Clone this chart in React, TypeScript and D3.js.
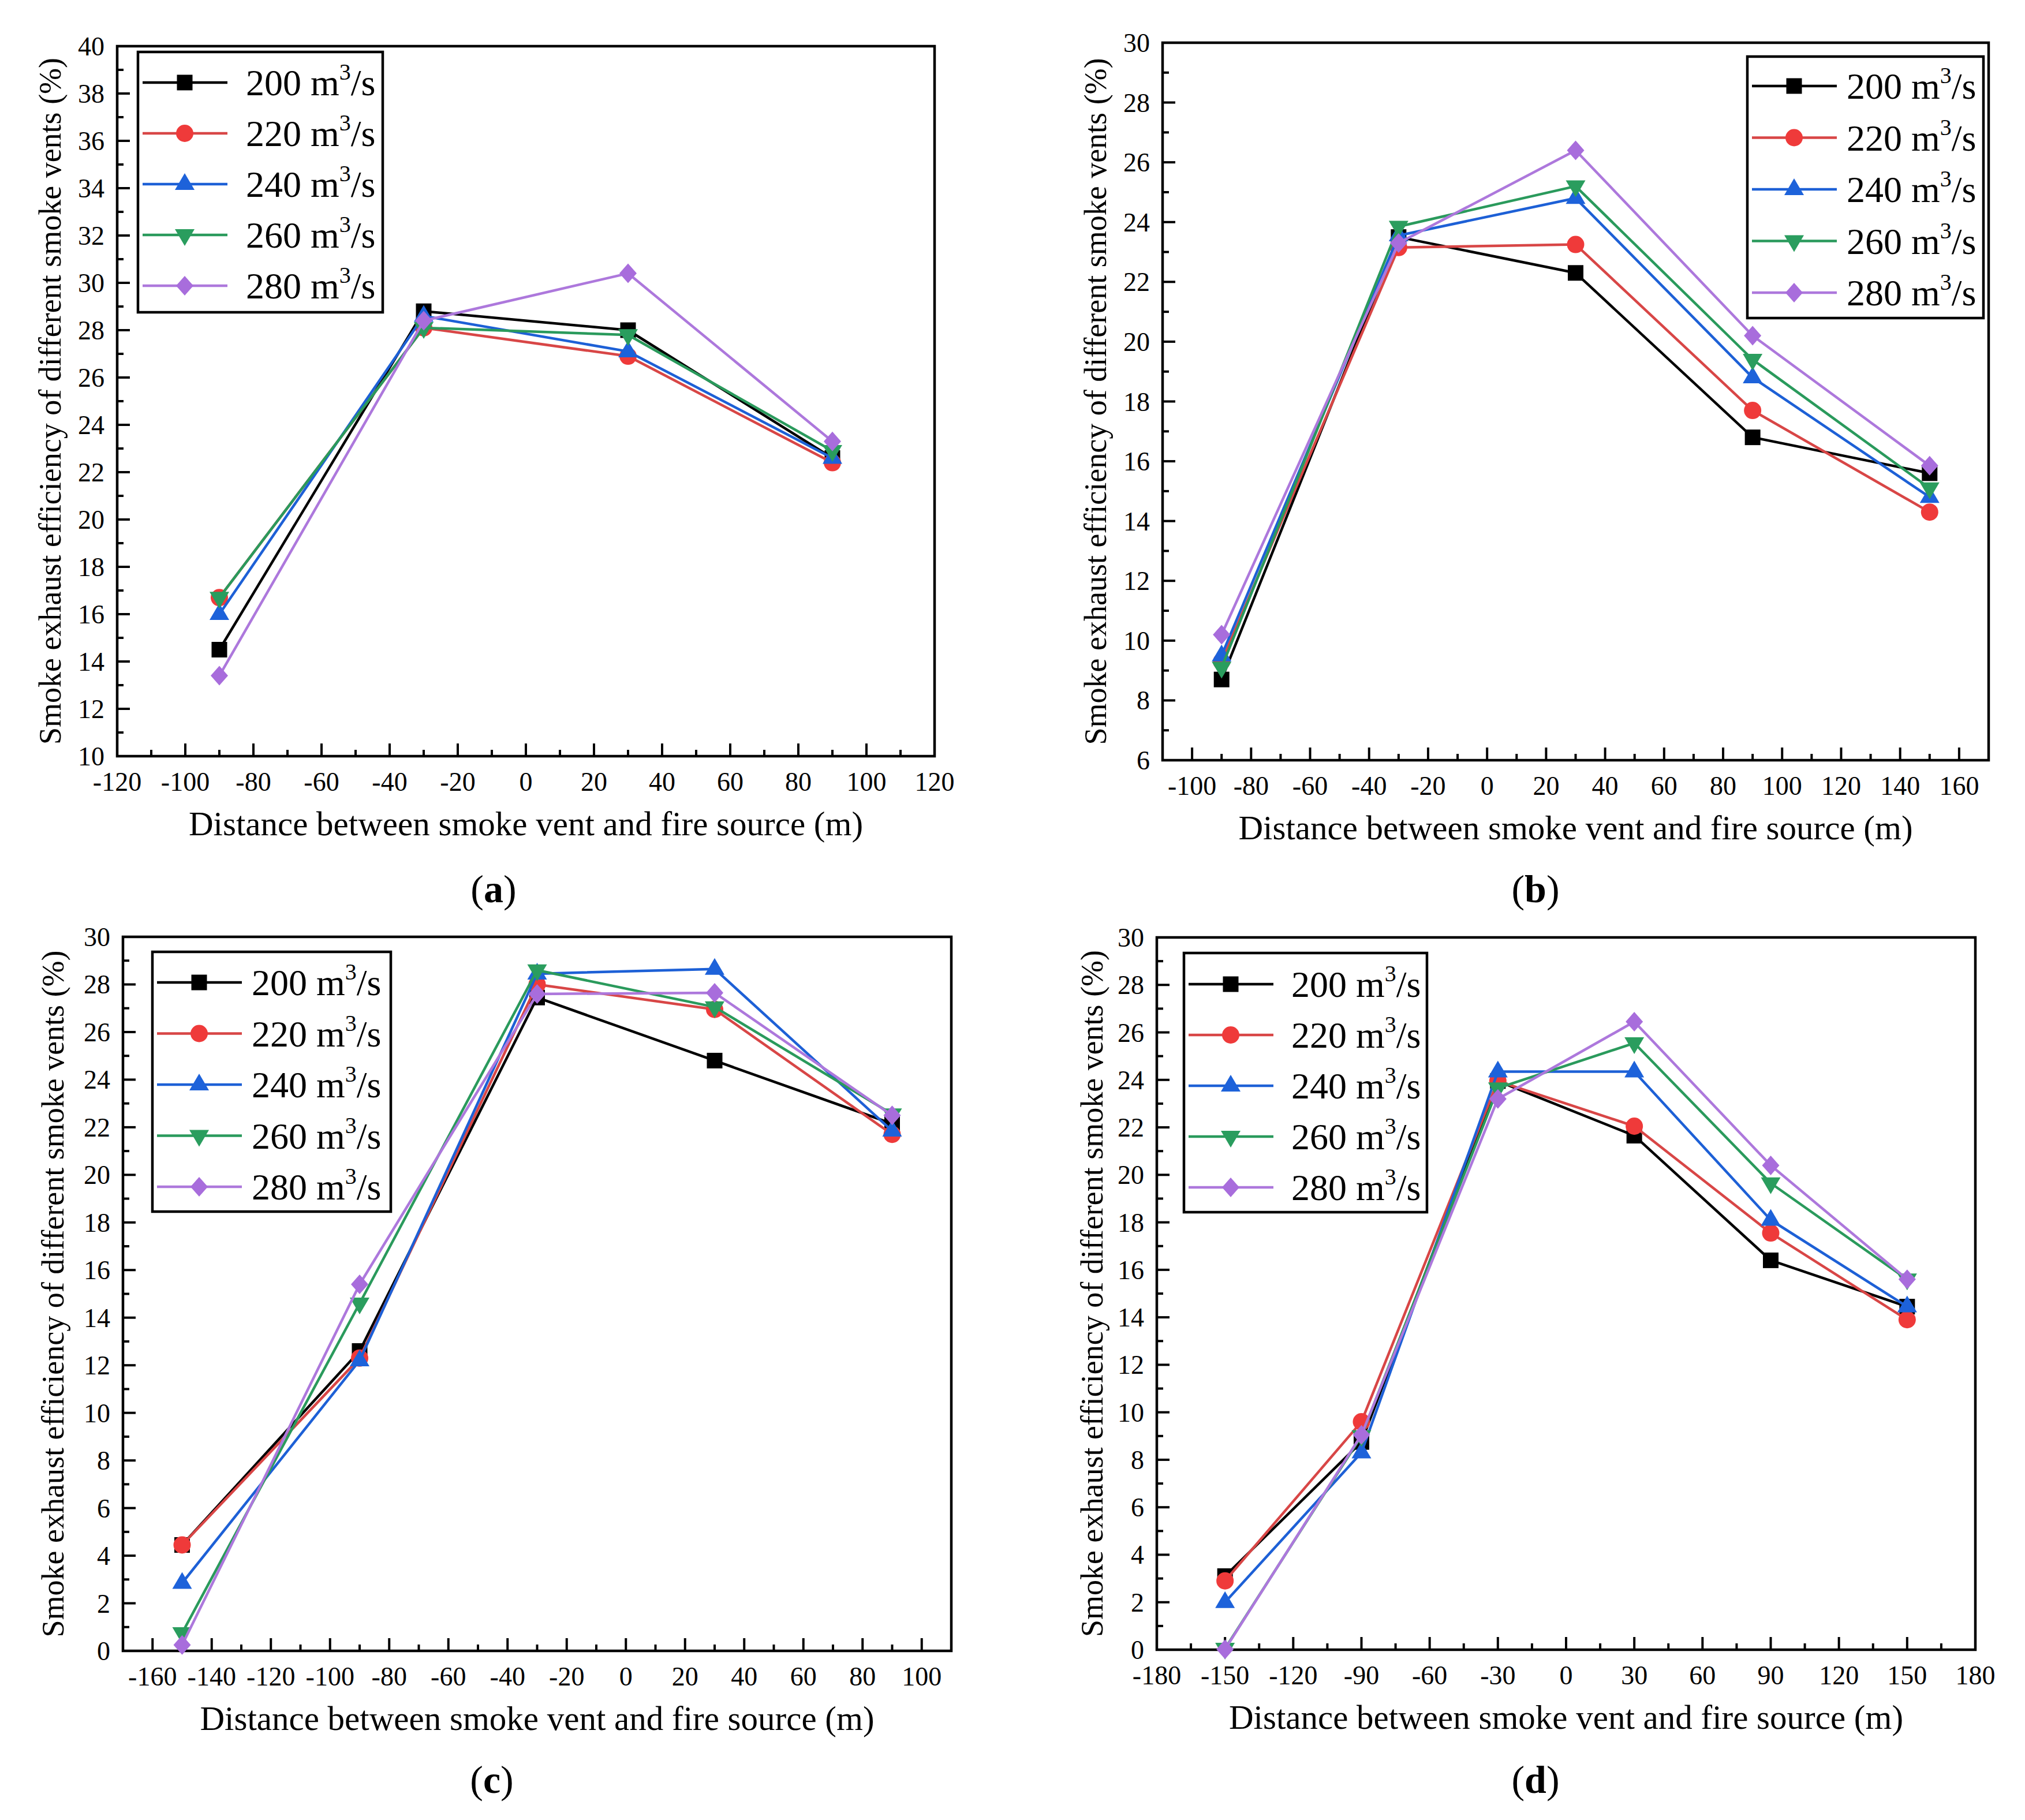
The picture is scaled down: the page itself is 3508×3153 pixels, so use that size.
import * as d3 from "d3";

// flow rates of the five simulated cases
const flowLabels = ["200", "220", "240", "260", "280"];
const lineColors = ["#000000", "#d84646", "#1d60d6", "#2a9a5c", "#ad78dc"];
const markerColors = ["#000000", "#ef3a3a", "#1d62da", "#2a9d5e", "#a86ddc"];
const markerShapes = ["square", "circle", "triangle", "triangleDown", "diamond"];

// (a)
const distA = [-90, -30, 30, 90];
const effA200 = [14.5, 28.8, 28.0, 22.6];
const effA220 = [16.7, 28.1, 26.9, 22.4];
const effA240 = [16.0, 28.6, 27.1, 22.6];
const effA260 = [16.7, 28.1, 27.8, 22.9];
const effA280 = [13.4, 28.4, 30.4, 23.3];

// (b)
const distB = [-90, -30, 30, 90, 150];
const effB200 = [8.7, 23.5, 22.3, 16.8, 15.6];
const effB220 = [9.3, 23.15, 23.25, 17.7, 14.3];
const effB240 = [9.5, 23.55, 24.8, 18.8, 14.8];
const effB260 = [9.1, 23.85, 25.2, 19.4, 15.1];
const effB280 = [10.2, 23.3, 26.4, 20.2, 15.85];

// (c)
const distC = [-150, -90, -30, 30, 90];
const effC200 = [4.45, 12.6, 27.45, 24.8, 22.15];
const effC220 = [4.45, 12.3, 28.0, 26.95, 21.7];
const effC240 = [2.85, 12.2, 28.45, 28.65, 21.85];
const effC260 = [0.75, 14.6, 28.6, 27.05, 22.55];
const effC280 = [0.25, 15.4, 27.6, 27.65, 22.5];

// (d)
const distD = [-150, -90, -30, 30, 90, 150];
const effD200 = [3.1, 8.75, 23.95, 21.65, 16.4, 14.45];
const effD220 = [2.9, 9.6, 23.95, 22.05, 17.55, 13.9];
const effD240 = [2.0, 8.3, 24.35, 24.35, 18.1, 14.45];
const effD260 = [0.05, 9.0, 23.65, 25.55, 19.65, 15.6];
const effD280 = [0.02, 9.05, 23.2, 26.45, 20.4, 15.6];

const xTitle = "Distance between smoke vent and fire source (m)";
const yTitle = "Smoke exhaust efficiency of different smoke vents (%)";

const FONT = "'Liberation Serif', 'DejaVu Serif', serif";
const txt = { fontFamily: FONT };

interface Box { l: number; t: number; r: number; b: number }
interface PanelSpec {
  tag: string;
  xs: number[];
  series: number[][];
  box: Box;
  xDomain: [number, number];
  xStep: number;
  yDomain: [number, number];
  yStep: number;
  legend: Box & { row0: number; gap: number; textDx: number };
  yTitleX: number;
  labelX: number;
  labelY: number;
}

const panels: PanelSpec[] = [
  {
    tag: "a",
    xs: distA,
    series: [effA200, effA220, effA240, effA260, effA280],
    box: { l: 203, t: 80, r: 1619, b: 1310 },
    xDomain: [-120, 120],
    xStep: 20,
    yDomain: [10, 40],
    yStep: 2,
    legend: { l: 239, t: 90, r: 663, b: 541, row0: 143, gap: 88, textDx: 187 },
    yTitleX: 87,
    labelX: 855,
    labelY: 1563,
  },
  {
    tag: "b",
    xs: distB,
    series: [effB200, effB220, effB240, effB260, effB280],
    box: { l: 2014, t: 74, r: 3445, b: 1317 },
    xDomain: [-110, 170],
    xStep: 20,
    yDomain: [6, 30],
    yStep: 2,
    legend: { l: 3027, t: 98, r: 3436, b: 551, row0: 149, gap: 89.5, textDx: 172 },
    yTitleX: 1898,
    labelX: 2660,
    labelY: 1563,
  },
  {
    tag: "c",
    xs: distC,
    series: [effC200, effC220, effC240, effC260, effC280],
    box: { l: 213, t: 1623, r: 1648, b: 2860 },
    xDomain: [-170, 110],
    xStep: 20,
    yDomain: [0, 30],
    yStep: 2,
    legend: { l: 264, t: 1649, r: 677, b: 2099, row0: 1702, gap: 88.5, textDx: 172 },
    yTitleX: 92,
    labelX: 852,
    labelY: 3106,
  },
  {
    tag: "d",
    xs: distD,
    series: [effD200, effD220, effD240, effD260, effD280],
    box: { l: 2004, t: 1624, r: 3422, b: 2858 },
    xDomain: [-180, 180],
    xStep: 30,
    yDomain: [0, 30],
    yStep: 2,
    legend: { l: 2051, t: 1651, r: 2472, b: 2100, row0: 1705, gap: 88, textDx: 186 },
    yTitleX: 1892,
    labelX: 2660,
    labelY: 3106,
  },
];

function Marker({ shape, x, y, color }: { shape: string; x: number; y: number; color: string }) {
  if (shape === "circle") return <circle cx={x} cy={y} r={15} fill={color} />;
  let d = "";
  if (shape === "square") d = `M${x - 13.5},${y - 13.5}h27v27h-27Z`;
  else if (shape === "triangle") d = `M${x},${y - 19}L${x + 17},${y + 10}L${x - 17},${y + 10}Z`;
  else if (shape === "triangleDown") d = `M${x},${y + 19}L${x + 17},${y - 10}L${x - 17},${y - 10}Z`;
  else d = `M${x},${y - 17}L${x + 15},${y}L${x},${y + 17}L${x - 15},${y}Z`;
  return <path d={d} fill={color} />;
}

function FlowText({ x, y, value }: { x: number; y: number; value: string }) {
  return (
    <text x={x} y={y} style={txt} fontSize={64} fill="#000">
      {value} m
      <tspan dy={-27} fontSize={40}>3</tspan>
      <tspan dy={27}>/s</tspan>
    </text>
  );
}

function Panel({ p }: { p: PanelSpec }) {
  const { box, legend } = p;
  const x = d3.scaleLinear().domain(p.xDomain).range([box.l, box.r]);
  const y = d3.scaleLinear().domain(p.yDomain).range([box.b, box.t]);

  const xStart = Math.ceil(p.xDomain[0] / p.xStep) * p.xStep;
  const xMajor = d3.range(xStart, p.xDomain[1] + 0.001, p.xStep);
  const xMinor = d3
    .range(xStart - p.xStep / 2, p.xDomain[1] + 0.001, p.xStep)
    .filter((v) => v > p.xDomain[0] && v < p.xDomain[1]);
  const yMajor = d3.range(p.yDomain[0], p.yDomain[1] + 0.001, p.yStep);
  const yMinor = d3.range(p.yDomain[0] + p.yStep / 2, p.yDomain[1], p.yStep);

  const line = d3
    .line<number>()
    .x((_, i) => x(p.xs[i]))
    .y((v) => y(v));

  const cx = (box.l + box.r) / 2;
  const cy = (box.t + box.b) / 2;

  return (
    <g>
      {/* ticks point into the plot */}
      {xMajor.map((v) => (
        <line key={"xM" + v} x1={x(v)} x2={x(v)} y1={box.b} y2={box.b - 22} stroke="#000" strokeWidth={4} />
      ))}
      {xMinor.map((v) => (
        <line key={"xm" + v} x1={x(v)} x2={x(v)} y1={box.b} y2={box.b - 11} stroke="#000" strokeWidth={4} />
      ))}
      {yMajor.map((v) => (
        <line key={"yM" + v} x1={box.l} x2={box.l + 22} y1={y(v)} y2={y(v)} stroke="#000" strokeWidth={4} />
      ))}
      {yMinor.map((v) => (
        <line key={"ym" + v} x1={box.l} x2={box.l + 11} y1={y(v)} y2={y(v)} stroke="#000" strokeWidth={4} />
      ))}

      {xMajor.map((v) => (
        <text key={"xl" + v} x={x(v)} y={box.b + 60} textAnchor="middle" style={txt} fontSize={46} fill="#000">
          {v}
        </text>
      ))}
      {yMajor.map((v) => (
        <text key={"yl" + v} x={box.l - 22} y={y(v) + 16} textAnchor="end" style={txt} fontSize={46} fill="#000">
          {v}
        </text>
      ))}

      <rect x={box.l} y={box.t} width={box.r - box.l} height={box.b - box.t} fill="none" stroke="#000" strokeWidth={4.5} />

      {p.series.map((vals, si) => (
        <g key={"s" + si}>
          <path d={line(vals) ?? ""} fill="none" stroke={lineColors[si]} strokeWidth={4.5} strokeLinejoin="round" />
          {vals.map((v, i) => (
            <Marker key={i} shape={markerShapes[si]} x={x(p.xs[i])} y={y(v)} color={markerColors[si]} />
          ))}
        </g>
      ))}

      <rect
        x={legend.l}
        y={legend.t}
        width={legend.r - legend.l}
        height={legend.b - legend.t}
        fill="#fff"
        stroke="#000"
        strokeWidth={4.5}
      />
      {flowLabels.map((f, i) => {
        const ry = legend.row0 + i * legend.gap;
        return (
          <g key={"lg" + f}>
            <line x1={legend.l + 8} x2={legend.l + 155} y1={ry} y2={ry} stroke={lineColors[i]} strokeWidth={4.5} />
            <Marker shape={markerShapes[i]} x={legend.l + 81} y={ry} color={markerColors[i]} />
            <FlowText x={legend.l + legend.textDx} y={ry + 22} value={f} />
          </g>
        );
      })}

      <text x={cx} y={box.b + 137} textAnchor="middle" style={txt} fontSize={59} fill="#000">
        {xTitle}
      </text>
      <text
        transform={`translate(${p.yTitleX},${cy}) rotate(-90)`}
        textAnchor="middle"
        dominantBaseline="central"
        style={txt}
        fontSize={54}
        fill="#000"
      >
        {yTitle}
      </text>

      <text x={p.labelX} y={p.labelY} textAnchor="middle" style={txt} fontSize={68} fill="#000">
        (<tspan fontWeight="bold">{p.tag}</tspan>)
      </text>
    </g>
  );
}

export default function App() {
  return (
    <svg
      width={3508}
      height={3153}
      viewBox="0 0 3508 3153"
      style={{ position: "absolute", left: 0, top: 0, display: "block", background: "#fff" }}
    >
      <rect width={3508} height={3153} fill="#fff" />
      {panels.map((p) => (
        <Panel key={p.tag} p={p} />
      ))}
    </svg>
  );
}
